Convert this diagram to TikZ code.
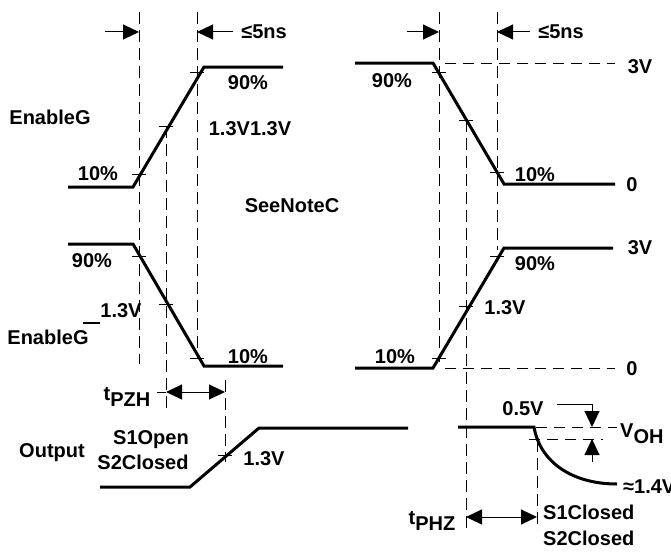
\documentclass[tikz,border=0pt]{standalone}
\usepackage{fontspec}
\setmainfont{Liberation Sans}
\usetikzlibrary{arrows.meta}
\begin{document}
\begin{tikzpicture}[x=1pt,y=-1pt,
  sig/.style={line width=3pt, line join=miter},
  guide/.style={line width=0.9pt, dash pattern=on 12pt off 6pt},
  hguide/.style={line width=0.9pt, dash pattern=on 11pt off 7pt},
  tickln/.style={line width=0.9pt},
  lbl/.style={font=\fontsize{20}{22}\selectfont\bfseries, inner sep=0pt, text height=14pt, text depth=0pt},
  arr/.style={-{Triangle[length=16pt,width=15pt]}, line width=1pt},
  darr/.style={{Triangle[length=16pt,width=15pt]}-{Triangle[length=16pt,width=15pt]}, line width=1pt}
]
\useasboundingbox (0,0) rectangle (671,551);

% vertical guide lines
\draw[guide] (139,12) -- (139,364);
\draw[guide] (197,12) -- (197,358);
\draw[guide] (166,126) -- (166,408);
\draw[guide] (225,380) -- (225,462);
\draw[guide] (439,12) -- (439,362);
\draw[guide] (497,12) -- (497,250);
\draw[guide] (466,120) -- (466,530);
\draw[guide] (537,440) -- (537,530);

% horizontal guide lines
\draw[hguide] (445,63) -- (615,63);
\draw[hguide] (445,368) -- (615,368);
\draw[hguide] (536,427) -- (617,427);
\draw[hguide] (529,439) -- (603,439);

% crossing ticks
\foreach \px/\py in {139/174,166/126,197/72, 439/72,466/120,497/172,
                     139/256,166/304,197/358, 439/358,466/306,497/256, 225/455}
  \draw[tickln] (\px-7,\py) -- (\px+7,\py);
\draw[tickln] (157,392) -- (166,392);

% waveforms
\draw[sig] (68,187) -- (133,187) -- (204,67) -- (283,67);
\draw[sig] (355,63) -- (433,63) -- (504,184) -- (615,184);
\draw[sig] (68,244) -- (133,244) -- (204,366) -- (283,366);
\draw[sig] (355,368) -- (433,368) -- (504,248) -- (613,248);
\draw[sig] (100,487) -- (190,487) -- (259,428) -- (408,428);
\draw[sig] (458,427) -- (534,427) .. controls (540,462) and (572,484) .. (617,484);

% timing arrows
\draw[arr] (105,32) -- (139,32);
\draw[arr] (233,32) -- (197,32);
\draw[arr] (407,32) -- (439,32);
\draw[arr] (530,32) -- (497,32);
\draw[darr] (166,392) -- (225,392);
\draw[darr] (466,517) -- (537,517);
\draw[line width=1pt] (557,404) -- (592,404);
\draw[arr] (592,404) -- (592,427);
\draw[arr] (592,462) -- (592,439);

% overline of EnableG
\draw[line width=2.5pt] (83,323) -- (100,323);

% labels
\node[lbl] (l5nsA) at (264,32) {≤5ns};
\node[lbl] (l5nsB) at (561,32) {≤5ns};
\node[lbl] (p90a) at (248,82) {90\%};
\node[lbl] (enA) at (50,117) {EnableG};
\node[lbl] (v13a) at (250,128) {1.3V1.3V};
\node[lbl] (p10a) at (98,173) {10\%};
\node[lbl] (p90b) at (392,80) {90\%};
\node[lbl] (v3a) at (640,67) {3V};
\node[lbl] (z0a) at (632,184) {0};
\node[lbl] (p10b) at (535,174) {10\%};
\node[lbl] (note) at (292,205) {SeeNoteC};
\node[lbl] (p90c) at (92,260) {90\%};
\node[lbl] (v13b) at (121,310) {1.3V};
\node[lbl] (enB) at (48,337) {EnableG};
\node[lbl] (p10c) at (248,356) {10\%};
\node[lbl] (p10d) at (395,356) {10\%};
\node[lbl] (p90d) at (535,263) {90\%};
\node[lbl] (v13c) at (505,307) {1.3V};
\node[lbl] (v3b) at (640,247) {3V};
\node[lbl] (z0b) at (632,368) {0};
\node[lbl] (tpzh) at (127,393) {t\raisebox{-6pt}{PZH}};
\node[lbl] (outp) at (52,450) {Output};
\node[lbl] (s1o) at (151,437) {S1Open};
\node[lbl] (s2c) at (143,462) {S2Closed};
\node[lbl] (v13d) at (264,458) {1.3V};
\node[lbl] (v05) at (523,408) {0.5V};
\node[lbl, anchor=west] (voh) at (620,430) {V\raisebox{-6pt}{OH}};
\node[lbl, anchor=west] (v14) at (623,486) {≈1.4V};
\node[lbl] (tphz) at (432,517) {t\raisebox{-6pt}{PHZ}};
\node[lbl, anchor=west] (s1c) at (543,512) {S1Closed};
\node[lbl, anchor=west] (s2c2) at (543,538) {S2Closed};
\end{tikzpicture}
\end{document}
